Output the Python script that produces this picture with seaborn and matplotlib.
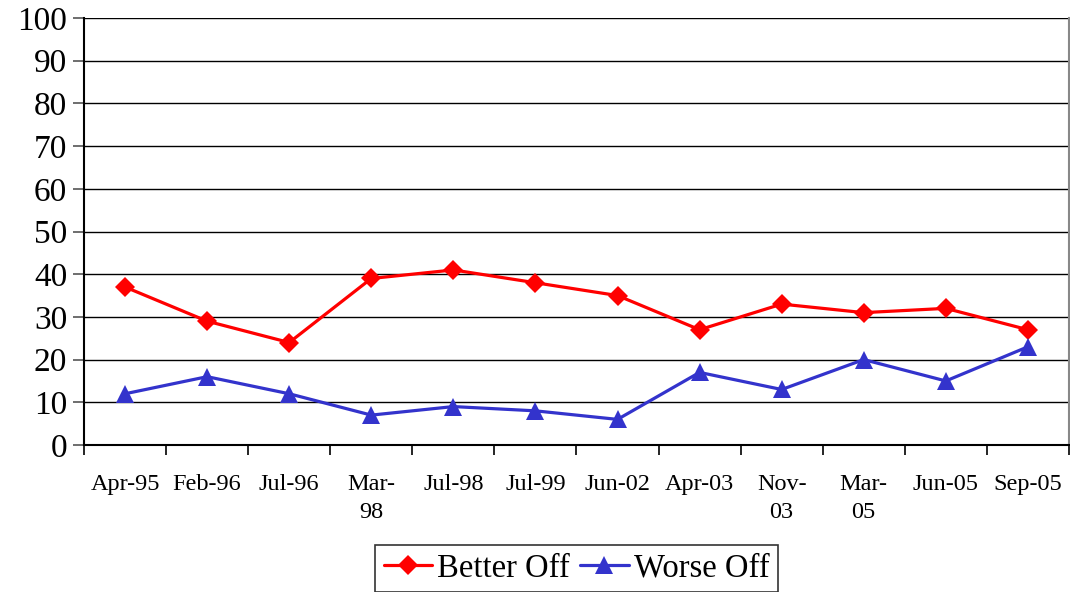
import matplotlib
matplotlib.use('Agg')
import matplotlib.pyplot as plt
import seaborn as sns
import pandas as pd
from matplotlib.ticker import FixedLocator

# Data
dates = ['Apr-95', 'Feb-96', 'Jul-96', 'Mar-98', 'Jul-98', 'Jul-99',
         'Jun-02', 'Apr-03', 'Nov-03', 'Mar-05', 'Jun-05', 'Sep-05']
tick_labels = ['Apr-95', 'Feb-96', 'Jul-96', 'Mar-\n98', 'Jul-98', 'Jul-99',
               'Jun-02', 'Apr-03', 'Nov-\n03', 'Mar-\n05', 'Jun-05', 'Sep-05']
better_off = [37, 29, 24, 39, 41, 38, 35, 27, 33, 31, 32, 27]
worse_off = [12, 16, 12, 7, 9, 8, 6, 17, 13, 20, 15, 23]

df = pd.DataFrame({
    'date': dates * 2,
    'value': better_off + worse_off,
    'series': ['Better Off'] * len(dates) + ['Worse Off'] * len(dates),
})

sns.set_theme(style='white')
plt.rcParams['font.family'] = ['Liberation Serif', 'DejaVu Serif']
plt.rcParams['text.color'] = 'black'
plt.rcParams['xtick.color'] = 'black'
plt.rcParams['ytick.color'] = 'black'

fig = plt.figure(figsize=(10.7, 5.92), dpi=100)
ax = fig.add_axes([0.0785, 0.2483, 0.9205, 0.7213])

palette = {'Better Off': '#FF0000', 'Worse Off': '#3333CC'}
markers = {'Better Off': 'D', 'Worse Off': '^'}
sns.lineplot(data=df, x='date', y='value', hue='series', style='series',
             palette=palette, markers=markers, dashes=False, sort=False,
             linewidth=2.3, markersize=13, markeredgewidth=0, ax=ax)
for line in ax.lines:
    if line.get_marker() == 'D':
        line.set_markersize(10.5)

ax.set_xlim(-0.5, len(dates) - 0.5)
ax.set_ylim(0, 100)
ax.set_yticks(range(0, 101, 10))
ax.yaxis.grid(True, color='black', linewidth=1)
ax.set_axisbelow(True)

ax.set_xticks(range(len(dates)))
ax.set_xticklabels(tick_labels, fontsize=17.5, linespacing=1.4)
ax.xaxis.set_minor_locator(FixedLocator([i - 0.5 for i in range(len(dates) + 1)]))
ax.tick_params(axis='x', which='major', length=0, pad=21)
ax.tick_params(axis='x', which='minor', length=7, width=1.2, color='black', direction='out', bottom=True)
ax.tick_params(axis='y', length=8, width=1.2, color='#555555', direction='out', left=True, labelsize=24, pad=4)
for lbl in ax.get_xticklabels():
    lbl.set_verticalalignment('top')

ax.set_xlabel('')
ax.set_ylabel('')
ax.spines['top'].set_visible(False)
ax.spines['left'].set_color('black')
ax.spines['left'].set_linewidth(1.5)
ax.spines['bottom'].set_color('black')
ax.spines['bottom'].set_linewidth(1.5)
ax.spines['right'].set_color('#888888')
ax.spines['right'].set_linewidth(1.5)

leg = ax.legend(loc='upper center', bbox_to_anchor=(0.5, -0.234), ncol=2,
                frameon=True, fancybox=False, fontsize=23.5, handlelength=1.5,
                handletextpad=0.15, columnspacing=0.3, borderpad=0.25,
                borderaxespad=0)
leg.get_frame().set_edgecolor('black')
leg.get_frame().set_linewidth(1.2)
for t in leg.get_texts():
    t.set_color('black')

fig.savefig('out.png', dpi=100)
